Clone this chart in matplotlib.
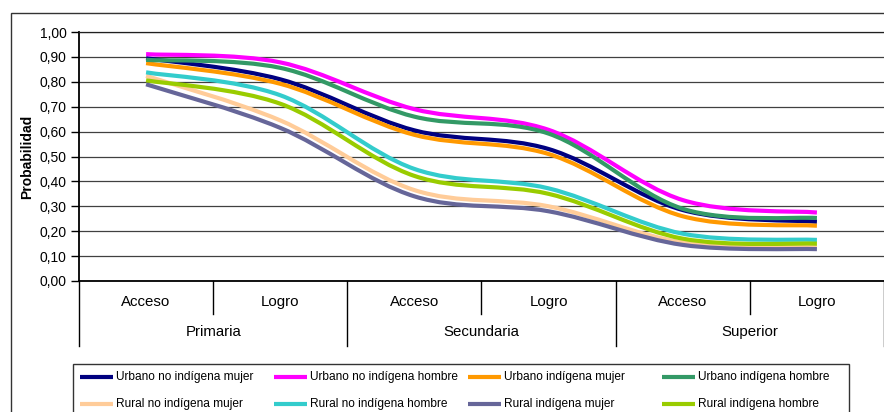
import matplotlib
matplotlib.use("Agg")
import matplotlib.pyplot as plt
from matplotlib.lines import Line2D
from matplotlib.patches import Rectangle, PathPatch
from matplotlib.path import Path
from matplotlib.ticker import FuncFormatter
import matplotlib.transforms as mtransforms

plt.rcParams['font.family'] = ['Liberation Sans', 'DejaVu Sans']

# ---- data ----
categories = ["Primaria Acceso", "Primaria Logro", "Secundaria Acceso",
              "Secundaria Logro", "Superior Acceso", "Superior Logro"]
sub_labels = ["Acceso", "Logro", "Acceso", "Logro", "Acceso", "Logro"]
group_labels = ["Primaria", "Secundaria", "Superior"]

series_names = [
    "Urbano no indígena mujer", "Urbano no indígena hombre",
    "Urbano indígena mujer", "Urbano indígena hombre",
    "Rural no indígena mujer", "Rural no indígena hombre",
    "Rural indígena mujer", "Rural indígena hombre",
]
urb_noind_muj = [0.895, 0.810, 0.605, 0.530, 0.285, 0.238]
urb_noind_hom = [0.911, 0.878, 0.690, 0.607, 0.325, 0.275]
urb_ind_muj = [0.875, 0.792, 0.587, 0.510, 0.260, 0.222]
urb_ind_hom = [0.888, 0.856, 0.660, 0.592, 0.290, 0.253]
rur_noind_muj = [0.824, 0.645, 0.365, 0.300, 0.155, 0.138]
rur_noind_hom = [0.838, 0.746, 0.450, 0.372, 0.190, 0.165]
rur_ind_muj = [0.790, 0.615, 0.340, 0.280, 0.145, 0.128]
rur_ind_hom = [0.806, 0.712, 0.422, 0.350, 0.170, 0.150]

series_values = [urb_noind_muj, urb_noind_hom, urb_ind_muj, urb_ind_hom,
                 rur_noind_muj, rur_noind_hom, rur_ind_muj, rur_ind_hom]
colors = ["#000080", "#FF00FF", "#FF9900", "#339966",
          "#FFCC99", "#33CCCC", "#666699", "#99CC00"]


def smooth_path(xs, ys):
    """Smoothed line through the data points (like a spreadsheet 'smoothed line')."""
    n = len(xs)
    tx, ty = [], []
    for i in range(n):
        a = max(i - 1, 0)
        b = min(i + 1, n - 1)
        tx.append((xs[b] - xs[a]) / 2)
        ty.append((ys[b] - ys[a]) / 2)
    verts = [(xs[0], ys[0])]
    codes = [Path.MOVETO]
    for i in range(n - 1):
        verts += [(xs[i] + tx[i] / 3, ys[i] + ty[i] / 3),
                  (xs[i + 1] - tx[i + 1] / 3, ys[i + 1] - ty[i + 1] / 3),
                  (xs[i + 1], ys[i + 1])]
        codes += [Path.CURVE4] * 3
    return Path(verts, codes)


# ---- figure ----
W, H = 884, 412
fig = plt.figure(figsize=(W / 100, H / 100), dpi=100)


def fx(px):
    return px / W


def fy(py):
    return 1 - py / H


ax = fig.add_axes([fx(79), fy(281), fx(884) - fx(79), fy(32) - fy(281)])

xpos = list(range(len(categories)))
for vals, c in zip(series_values, colors):
    patch = PathPatch(smooth_path(xpos, vals), fill=False, ec=c, lw=3.0,
                      joinstyle='round', capstyle='butt', zorder=3,
                      transform=ax.transData)
    ax.add_patch(patch)

ax.set_xlim(-0.5, 5.5)
ax.set_ylim(0, 1.0)
ax.set_yticks([i / 10 for i in range(11)])
ax.yaxis.set_major_formatter(FuncFormatter(lambda v, p: f"{v:.2f}".replace('.', ',')))
ax.tick_params(axis='y', length=6, width=1, pad=3, labelsize=10, direction='out')
ax.set_xticks([])
ax.grid(axis='y', color='#404040', lw=0.9, zorder=1)
ax.spines['right'].set_visible(False)
ax.spines['top'].set_color('#202020')
ax.spines['top'].set_linewidth(0.9)
ax.spines['left'].set_linewidth(1.3)
ax.spines['bottom'].set_linewidth(1.3)

# multi-level category axis
tr = mtransforms.blended_transform_factory(ax.transData, ax.transAxes)
ah = 281 - 32
short_y = -33 / ah
long_y = -65 / ah
bounds = [-0.5, 0.5, 1.5, 2.5, 3.5, 4.5, 5.5]
for i, b in enumerate(bounds):
    yb = long_y if i % 2 == 0 else short_y
    ax.plot([b, b], [0, yb], transform=tr, color='black', lw=1.0, clip_on=False)
for i, lab in enumerate(sub_labels):
    ax.text(i, -21 / ah, lab, transform=tr, ha='center', va='center', fontsize=10.8)
for i, lab in enumerate(group_labels):
    ax.text(2 * i + 0.5, -51 / ah, lab, transform=tr, ha='center', va='center', fontsize=10.8)

fig.text(fx(27), fy(157), "Probabilidad", rotation=90, ha='center', va='center',
         fontsize=10, fontweight='bold')

# outer chart border
fig.add_artist(Rectangle((fx(11), fy(430)), fx(900) - fx(11), fy(13) - fy(430),
                         transform=fig.transFigure, fill=False, ec='#333333', lw=1.0,
                         clip_on=False))

# legend box
fig.add_artist(Rectangle((fx(73), fy(430)), fx(849) - fx(73), fy(364) - fy(430),
                         transform=fig.transFigure, fill=True, fc='white', ec='#333333',
                         lw=1.0, clip_on=False))
for i, (name, c) in enumerate(zip(series_names, colors)):
    col, row = i % 4, i // 4
    x0 = 80 + 194 * col
    yrow = 377 + 26.5 * row
    fig.add_artist(Line2D([fx(x0), fx(x0 + 33)], [fy(yrow), fy(yrow)], color=c, lw=3.0,
                          solid_capstyle='butt', transform=fig.transFigure))
    fig.text(fx(x0 + 36), fy(yrow), name, ha='left', va='center', fontsize=8.6)

fig.savefig("out.png", dpi=100)
